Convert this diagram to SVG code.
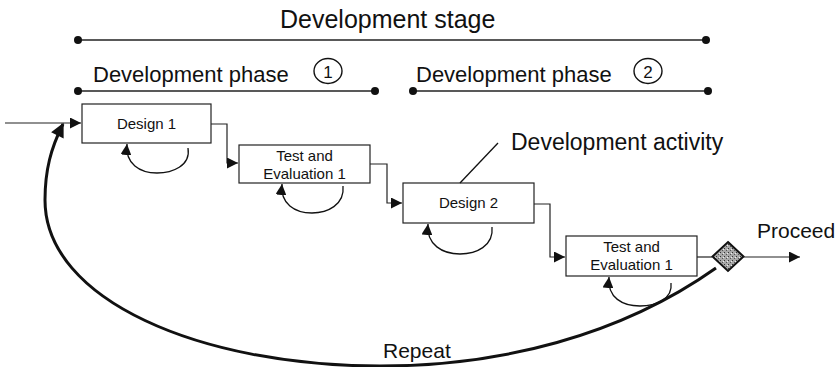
<svg xmlns="http://www.w3.org/2000/svg" width="836" height="367" viewBox="0 0 836 367">
  <style>
    .lbl { font-family: "Liberation Sans", Arial, sans-serif; fill: #111; }
    .big { font-size: 22px; }
    .box rect { fill: #fff; stroke: #222; stroke-width: 1.2; }
    .box text { font-family: "Liberation Sans", Arial, sans-serif; font-size: 15px; fill: #111; text-anchor: middle; }
    .span line { stroke: #222; stroke-width: 1.3; }
    .span circle { fill: #111; }
    .num { fill: none; stroke: #111; stroke-width: 1.4; }
    .flow { fill: none; stroke: #222; stroke-width: 1.2; }
    .loop { fill: none; stroke: #111; stroke-width: 1.3; }
  </style>
  <defs>
    <marker id="tip" viewBox="0 0 10 10" refX="10" refY="5" markerWidth="11" markerHeight="11" markerUnits="userSpaceOnUse" orient="auto">
      <path d="M0,0 L10,5 L0,10 z" fill="#111"/>
    </marker>
    <marker id="tipBig" viewBox="0 0 10 10" refX="9" refY="5" markerWidth="16" markerHeight="14" markerUnits="userSpaceOnUse" orient="auto">
      <path d="M0,0 L10,5 L0,10 z" fill="#111"/>
    </marker>
    <pattern id="stipple" width="4" height="4" patternUnits="userSpaceOnUse">
      <rect width="4" height="4" fill="#a8a8a8"/>
      <rect x="0" y="0" width="1" height="1" fill="#333"/>
      <rect x="2" y="2" width="1" height="1" fill="#555"/>
      <rect x="3" y="1" width="1" height="1" fill="#eee"/>
    </pattern>
  </defs>

  <!-- stage and phase spans -->
  <g id="stage" class="span">
    <text class="lbl" x="280" y="28" font-size="25">Development stage</text>
    <line x1="78" y1="40" x2="706" y2="40"/>
    <circle cx="78" cy="40" r="4"/>
    <circle cx="706" cy="40" r="4"/>
  </g>
  <g id="phase1" class="span">
    <text class="lbl big" x="93" y="82">Development phase</text>
    <ellipse class="num" cx="328" cy="71" rx="14" ry="12.5"/>
    <text class="lbl" x="328" y="77.5" font-size="17" text-anchor="middle">1</text>
    <line x1="78" y1="91" x2="375" y2="91"/>
    <circle cx="78" cy="91" r="4"/>
    <circle cx="375" cy="91" r="4"/>
  </g>
  <g id="phase2" class="span">
    <text class="lbl big" x="416" y="82">Development phase</text>
    <ellipse class="num" cx="648" cy="71" rx="14" ry="12.5"/>
    <text class="lbl" x="648" y="77.5" font-size="17" text-anchor="middle">2</text>
    <line x1="413" y1="91" x2="708" y2="91"/>
    <circle cx="413" cy="91" r="4"/>
    <circle cx="708" cy="91" r="4"/>
  </g>

  <!-- activities -->
  <g id="design1" class="box">
    <rect x="82" y="104" width="129" height="39"/>
    <text x="146.5" y="129">Design 1</text>
  </g>
  <g id="test1" class="box">
    <rect x="239" y="145" width="131" height="38"/>
    <text x="304.5" y="161">Test and</text>
    <text x="304.5" y="179">Evaluation 1</text>
  </g>
  <g id="design2" class="box">
    <rect x="403" y="183" width="131" height="40"/>
    <text x="468.5" y="208">Design 2</text>
  </g>
  <g id="test2" class="box">
    <rect x="566" y="236" width="131" height="40"/>
    <text x="631.5" y="252">Test and</text>
    <text x="631.5" y="270">Evaluation 1</text>
  </g>
  <g id="decision">
    <polygon points="728,242 743.5,256.5 728,271 712.5,256.5" fill="url(#stipple)" stroke="#111" stroke-width="2"/>
  </g>

  <!-- callouts -->
  <g id="activity-label">
    <text class="lbl" x="511" y="150" font-size="23">Development activity</text>
    <line x1="498" y1="143" x2="460" y2="183" stroke="#111" stroke-width="1.3"/>
  </g>
  <g id="proceed-label">
    <text class="lbl" x="757" y="238" font-size="21">Proceed</text>
  </g>
  <g id="repeat-label">
    <text class="lbl" x="383" y="358" font-size="21">Repeat</text>
  </g>

  <!-- connectors -->
  <g id="connectors">
    <path class="flow" d="M5,123 H81" marker-end="url(#tip)"/>
    <path class="flow" d="M211,124 H227 V163 H238" marker-end="url(#tip)"/>
    <path class="flow" d="M370,164 H387 V203 H402" marker-end="url(#tip)"/>
    <path class="flow" d="M534,204 H550 V257 H565" marker-end="url(#tip)"/>
    <path class="flow" d="M697,257 H712"/>
    <path class="flow" d="M743,257 H800" marker-end="url(#tip)"/>

    <!-- self loops under each activity -->
    <path class="loop" d="M188,148 C191,166 172,173 157,173 C140,173 125,164 127,144" marker-end="url(#tip)"/>
    <path class="loop" d="M343,186 C345,205 327,213 312,213 C295,213 280,204 282,184" marker-end="url(#tip)"/>
    <path class="loop" d="M492,227 C494,246 476,254 460,254 C443,254 426,245 428,224" marker-end="url(#tip)"/>
    <path class="loop" d="M671,283 C673,299 656,306 640,306 C623,306 607,298 609,277" marker-end="url(#tip)"/>

    <!-- repeat loop back to the first activity -->
    <path d="M716,268 C620,336 500,366 380,366 C200,366 45,300 45,200 C45,170 51,148 63,124" fill="none" stroke="#111" stroke-width="3" marker-end="url(#tipBig)"/>
  </g>
</svg>
